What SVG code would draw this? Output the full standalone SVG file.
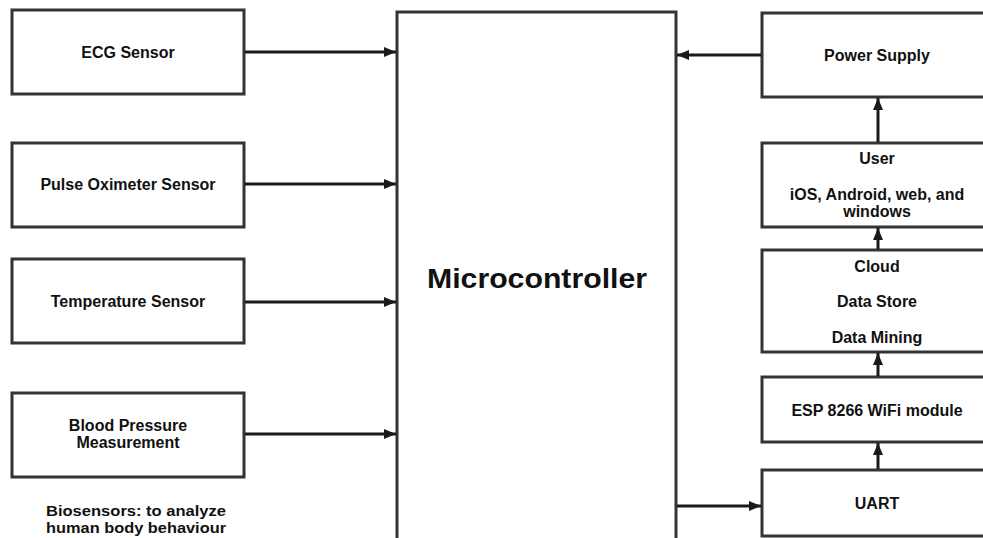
<svg xmlns="http://www.w3.org/2000/svg" width="983" height="538" viewBox="0 0 983 538">
<style>
.box{fill:#fff;stroke:#333;stroke-width:3}
.t{font-family:"Liberation Sans",Arial,sans-serif;font-weight:bold;font-size:16px;fill:#111;text-anchor:middle}
.big{font-size:27px}
.sm{font-size:15px}
.c{stroke:#1a1a1a;stroke-width:3;fill:none}
</style>
<defs>
<marker id="ah" viewBox="0 0 12 10" refX="12" refY="5" markerWidth="12" markerHeight="10" markerUnits="userSpaceOnUse" orient="auto">
<path d="M0,0 L12,5 L0,10 Z" fill="#1a1a1a"/>
</marker>
</defs>
<rect width="983" height="538" fill="#fff"/>
<g id="ecg"><rect class="box" x="12" y="10" width="232" height="84"/><text class="t" x="128" y="58">ECG Sensor</text></g>
<g id="pulse"><rect class="box" x="12" y="143" width="232" height="84"/><text class="t" x="128" y="190">Pulse Oximeter Sensor</text></g>
<g id="temp"><rect class="box" x="12" y="259" width="232" height="84"/><text class="t" x="128" y="307">Temperature Sensor</text></g>
<g id="bp"><rect class="box" x="12" y="393" width="232" height="84"/><text class="t" x="128" y="431">Blood Pressure</text><text class="t" x="128" y="448">Measurement</text></g>
<g id="bio"><text class="t sm" x="136" y="516" textLength="180" lengthAdjust="spacingAndGlyphs">Biosensors: to analyze</text><text class="t sm" x="136" y="533" textLength="180" lengthAdjust="spacingAndGlyphs">human body behaviour</text></g>
<g id="mcu"><rect class="box" x="397" y="12" width="279" height="560"/><text class="t big" x="537" y="288" textLength="220" lengthAdjust="spacingAndGlyphs">Microcontroller</text></g>
<g id="power"><rect class="box" x="762" y="13" width="232" height="84"/><text class="t" x="877" y="61">Power Supply</text></g>
<g id="user"><rect class="box" x="762" y="143" width="232" height="84"/><text class="t" x="877" y="164">User</text><text class="t" x="877" y="200">iOS, Android, web, and</text><text class="t" x="877" y="217">windows</text></g>
<g id="cloud"><rect class="box" x="762" y="250" width="232" height="102"/><text class="t" x="877" y="272">Cloud</text><text class="t" x="877" y="307">Data Store</text><text class="t" x="877" y="343">Data Mining</text></g>
<g id="esp"><rect class="box" x="762" y="377" width="232" height="65"/><text class="t" x="877" y="416">ESP 8266 WiFi module</text></g>
<g id="uart"><rect class="box" x="762" y="470" width="232" height="66"/><text class="t" x="877" y="509">UART</text></g>
<g id="connectors">
<line class="c" x1="245" y1="52" x2="396" y2="52" marker-end="url(#ah)"/>
<line class="c" x1="245" y1="184" x2="396" y2="184" marker-end="url(#ah)"/>
<line class="c" x1="245" y1="302" x2="396" y2="302" marker-end="url(#ah)"/>
<line class="c" x1="245" y1="434" x2="396" y2="434" marker-end="url(#ah)"/>
<line class="c" x1="761" y1="55" x2="677" y2="55" marker-end="url(#ah)"/>
<line class="c" x1="677" y1="506" x2="761" y2="506" marker-end="url(#ah)"/>
<line class="c" x1="878" y1="142" x2="878" y2="98" marker-end="url(#ah)"/>
<line class="c" x1="878" y1="249" x2="878" y2="228" marker-end="url(#ah)"/>
<line class="c" x1="878" y1="376" x2="878" y2="353" marker-end="url(#ah)"/>
<line class="c" x1="878" y1="469" x2="878" y2="443" marker-end="url(#ah)"/>
</g>
</svg>
